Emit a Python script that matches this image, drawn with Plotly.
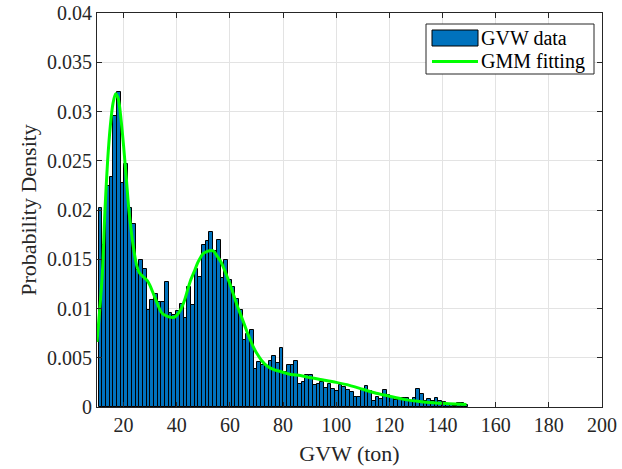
import numpy as np
import plotly.graph_objects as go

# Histogram of gross vehicle weight (100 bins, 10.6 - 149.6 t), pdf-normalised
bin_lo, bin_hi, n_bins = 10.6, 149.6, 100
gvw_density = [
    0.0202, 0.0164, 0.0224, 0.0233, 0.0295, 0.0320, 0.0227, 0.0247, 0.0202, 0.0186,
    0.0139, 0.0149, 0.0140, 0.0098, 0.0109, 0.0115, 0.0107, 0.0107, 0.0127, 0.0095,
    0.0093, 0.0097, 0.0105, 0.0090, 0.0122, 0.0104, 0.0140, 0.0132, 0.0164, 0.0169,
    0.0178, 0.0158, 0.0170, 0.0131, 0.0149, 0.0129, 0.0122, 0.0110, 0.0098, 0.0068,
    0.0074, 0.0078, 0.0039, 0.0046, 0.0043, 0.0042, 0.0047, 0.0052, 0.0045, 0.0060,
    0.0036, 0.0043, 0.0043, 0.0047, 0.0023, 0.0025, 0.0032, 0.0033, 0.0022, 0.0023,
    0.0025, 0.0019, 0.0023, 0.0018, 0.0016, 0.0022, 0.0020, 0.0017, 0.0015, 0.0010,
    0.0010, 0.0017, 0.0021, 0.0016, 0.0006, 0.0010, 0.0008, 0.0017, 0.0012, 0.0010,
    0.0007, 0.0009, 0.0009, 0.0009, 0.0006, 0.0009, 0.0018, 0.0013, 0.0006, 0.0008,
    0.0006, 0.0009, 0.0006, 0.0005, 0.0003, 0.0002, 0.0001, 0.0004, 0.0004, 0.0002,
]

# Gaussian-mixture density curve
gmm_x = [10, 11, 12, 13, 14, 15, 16, 17, 18, 19, 20, 21, 22, 23, 24, 25, 26, 27.5,
         29, 30, 31.5, 33, 34, 35, 36.5, 38, 39, 40, 41.5, 43, 44, 45, 46.5, 48, 49,
         50, 51.5, 53, 54, 55, 56.5, 58, 59, 60, 61.5, 63, 64, 65, 66.5, 68, 69, 70,
         72, 74, 76.5, 79, 83, 86.5, 90, 94, 100, 105, 110, 115, 120, 125, 130, 135,
         140, 145, 149]
gmm_pdf = [0.0066, 0.0098, 0.0135, 0.0200, 0.0250, 0.0285, 0.0308, 0.0318, 0.0313,
           0.0293, 0.0265, 0.0233, 0.0200, 0.0176, 0.0157, 0.0143, 0.0136, 0.0132,
           0.0128, 0.0123, 0.0113, 0.0103, 0.0097, 0.0094, 0.0092, 0.0091, 0.0091,
           0.0093, 0.0099, 0.0109, 0.0118, 0.0127, 0.0137, 0.0147, 0.0152, 0.0156,
           0.0158, 0.0159, 0.0158, 0.0154, 0.0148, 0.0139, 0.0132, 0.0125, 0.0113,
           0.0101, 0.0094, 0.0087, 0.0076, 0.0066, 0.0060, 0.0055, 0.0047, 0.00416,
           0.0038, 0.0036, 0.0033, 0.0032, 0.0030, 0.0028, 0.0025, 0.0022, 0.0018,
           0.0014, 0.0011, 0.0008, 0.0006, 0.00045, 0.00037, 0.0003, 0.00025]

x_ticks = [20, 40, 60, 80, 100, 120, 140, 160, 180, 200]
y_ticks = [0, 0.005, 0.01, 0.015, 0.02, 0.025, 0.03, 0.035, 0.04]
y_tick_text = ["0", "0.005", "0.01", "0.015", "0.02", "0.025", "0.03", "0.035", "0.04"]

edges = np.linspace(bin_lo, bin_hi, n_bins + 1)
centers = 0.5 * (edges[:-1] + edges[1:])
width = edges[1] - edges[0]

FONT = "Liberation Serif, Times New Roman, serif"
AX = "#262626"
BLUE = "#0072BD"
GREEN = "#00FF00"

fig = go.Figure()
fig.add_trace(go.Bar(
    x=centers, y=gvw_density, width=width, name="GVW data",
    marker=dict(color=BLUE, line=dict(color="#000000", width=1)),
    showlegend=False,
))
fig.add_trace(go.Scatter(
    x=gmm_x, y=gmm_pdf, mode="lines", name="GMM fitting",
    line=dict(color=GREEN, width=3, shape="spline", smoothing=0.8),
    showlegend=False,
))

W, H = 622, 469
L, R, T, B = 97, 20, 13, 62
pw, ph = W - L - R, H - T - B


def px(x):
    return (x - L) / pw


def py(y):
    return (H - B - y) / ph


# Legend drawn in paper coordinates
shapes = [
    dict(type="rect", xref="paper", yref="paper", x0=px(426), x1=px(594),
         y0=py(74), y1=py(24), line=dict(color=AX, width=1), fillcolor="white", layer="above"),
    dict(type="rect", xref="paper", yref="paper", x0=px(432), x1=px(478),
         y0=py(46), y1=py(30), line=dict(color="#000000", width=1), fillcolor=BLUE, layer="above"),
    dict(type="line", xref="paper", yref="paper", x0=px(432), x1=px(478),
         y0=py(61.5), y1=py(61.5), line=dict(color=GREEN, width=3), layer="above"),
]
annotations = [
    dict(text="GVW data", xref="paper", yref="paper", x=px(479), y=py(38),
         xanchor="left", yanchor="middle", showarrow=False,
         font=dict(family=FONT, size=20, color="#000000")),
    dict(text="GMM fitting", xref="paper", yref="paper", x=px(479), y=py(61),
         xanchor="left", yanchor="middle", showarrow=False,
         font=dict(family=FONT, size=20, color="#000000")),
]

axis_common = dict(
    showline=True, linecolor=AX, linewidth=1, mirror="ticks",
    ticks="inside", ticklen=5, tickcolor=AX, tickwidth=1,
    showgrid=True, gridcolor="#E3E3E3", gridwidth=1, zeroline=False,
    tickfont=dict(family=FONT, size=20, color=AX), automargin=False,
)

fig.update_layout(
    width=W, height=H,
    margin=dict(l=L, r=R, t=T, b=B),
    paper_bgcolor="white", plot_bgcolor="white",
    bargap=0,
    xaxis=dict(range=[10, 200], tickvals=x_ticks,
               title=dict(text="GVW (ton)", font=dict(family=FONT, size=22, color=AX), standoff=10),
               **axis_common),
    yaxis=dict(range=[0, 0.04], tickvals=y_ticks, ticktext=y_tick_text,
               title=dict(text="Probability Density", font=dict(family=FONT, size=22, color=AX), standoff=4),
               **axis_common),
    shapes=shapes,
    annotations=annotations,
)

fig.write_html("out.html")
